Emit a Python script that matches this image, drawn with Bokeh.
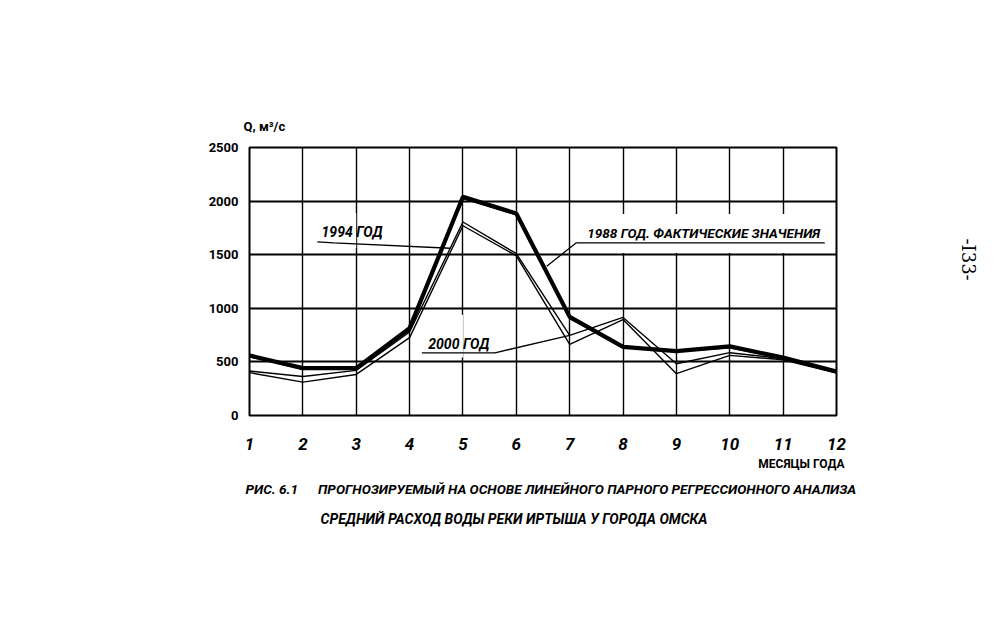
import math
from bokeh.plotting import figure
from bokeh.models import Range1d, FixedTicker, Label, BoxAnnotation, ColumnDataSource, Title
from bokeh.embed import file_html
from bokeh.resources import INLINE

# ---- data ----
months = [1, 2, 3, 4, 5, 6, 7, 8, 9, 10, 11, 12]
q_1988_actual = [560, 442, 442, 815, 2040, 1885, 920, 640, 600, 645, 540, 410]
q_near_actual = [548, 432, 434, 795, 2025, 1872, 905, 648, 598, 632, 534, 404]
q_2000 = [415, 364, 421, 779, 1805, 1510, 748, 915, 483, 586, 530, 400]
q_1994 = [400, 311, 383, 726, 1770, 1490, 664, 895, 390, 561, 520, 395]
y_ticks = [0, 500, 1000, 1500, 2000, 2500]

FONT = "Roboto"
W, H = 980, 620
NB = "\u00a0"

p = figure(width=W, height=H, output_backend="svg", toolbar_location=None,
           x_range=Range1d(1, 12), y_range=Range1d(0, 2500),
           min_border_left=249, min_border_right=W - 837,
           min_border_top=147, min_border_bottom=H - 415)
p.background_fill_color = "white"
p.border_fill_color = "white"
p.outline_line_color = "black"
p.outline_line_width = 2

# grids
p.xgrid.ticker = FixedTicker(ticks=months)
p.ygrid.ticker = FixedTicker(ticks=y_ticks)
p.xgrid.grid_line_color = "black"
p.xgrid.grid_line_width = 1.4
p.ygrid.grid_line_color = "black"
p.ygrid.grid_line_width = 2

# axes
p.xaxis.ticker = FixedTicker(ticks=months)
p.yaxis.ticker = FixedTicker(ticks=y_ticks)
for ax in (p.xaxis[0], p.yaxis[0]):
    ax.axis_line_color = None
    ax.major_tick_line_color = None
    ax.minor_tick_line_color = None
    ax.major_label_text_font = FONT
    ax.major_label_text_font_style = "bold"
    ax.major_label_text_color = "black"
p.xaxis.major_label_text_font_size = "17px"
p.xaxis.major_label_text_font_style = "bold italic"
p.xaxis.major_label_standoff = 16
p.yaxis.major_label_text_font_size = "13px"
p.yaxis.major_label_standoff = 5

# white boxes behind the labels
p.add_layout(BoxAnnotation(left=7.15, right=11.85, bottom=1515, top=1880,
                           fill_color="white", fill_alpha=1, line_color=None, level="underlay"))
p.add_layout(BoxAnnotation(left=2.2, right=3.0, bottom=1560, top=1890,
                           fill_color="white", fill_alpha=1, line_color=None, level="underlay"))
p.add_layout(BoxAnnotation(left=4.25, right=5.0, bottom=540, top=940,
                           fill_color="white", fill_alpha=1, line_color=None, level="underlay"))

src = ColumnDataSource(dict(m=months, a=q_1988_actual, n=q_near_actual, y2000=q_2000, y1994=q_1994))
p.line("m", "y1994", source=src, line_color="black", line_width=1.4)
p.line("m", "y2000", source=src, line_color="black", line_width=1.4)
p.line("m", "n", source=src, line_color="black", line_width=1.6)
p.line("m", "a", source=src, line_color="black", line_width=4.2)

# leader lines (annotation)
p.line([2.27, 2.58, 4.76], [1620, 1610, 1560], line_color="black", line_width=1.3)
p.line([11.78, 7.12, 6.57], [1610, 1610, 1393], line_color="black", line_width=1.3)
p.line([4.23, 5.6, 7.0], [585, 585, q_2000[6]], line_color="black", line_width=1.3)

lab = dict(text_font=FONT, text_font_style="bold italic", text_color="black",
           text_baseline="middle")
p.add_layout(Label(x=2.35, y=1715, text="1994 ГОД", text_font_size="14px", **lab))
p.add_layout(Label(x=7.33, y=1705, text="1988 ГОД. ФАКТИЧЕСКИЕ ЗНАЧЕНИЯ", text_font_size="13.5px", **lab))
p.add_layout(Label(x=4.35, y=665, text="2000 ГОД", text_font_size="14px", **lab))

# texts outside the frame: titles in the side panels
def title(side, text, size, align="left", offset=0, standoff=10, style="bold italic",
          font=FONT, valign="bottom"):
    p.add_layout(Title(text=text, align=align, offset=offset, standoff=standoff,
                       vertical_align=valign,
                       text_font=font, text_font_style=style, text_font_size=size,
                       text_color="black"), side)

title("above", "Q, м³/с", "13px", align="left", offset=-6, standoff=27, style="bold")
title("below", "МЕСЯЦЫ ГОДА", "12px", align="right", offset=-8, standoff=4, style="bold")
title("below", "РИС. 6.1" + NB * 6 + "ПРОГНОЗИРУЕМЫЙ НА ОСНОВЕ ЛИНЕЙНОГО ПАРНОГО РЕГРЕССИОННОГО АНАЛИЗА",
      "13.6px", align="left", offset=-4, standoff=12)
title("below", "СРЕДНИЙ РАСХОД ВОДЫ РЕКИ ИРТЫША У ГОРОДА ОМСКА", "14px", align="left",
      offset=71, standoff=12)
# spacer panel on the right, then the page number further out
title("right", NB, "15px", align="left", offset=91, standoff=101, style="normal",
      font="DejaVu Serif")
title("right", "-I33-", "18px", align="left", offset=91, standoff=0, style="normal",
      font="DejaVu Serif")

open("out.html", "w").write(file_html(p, INLINE))
